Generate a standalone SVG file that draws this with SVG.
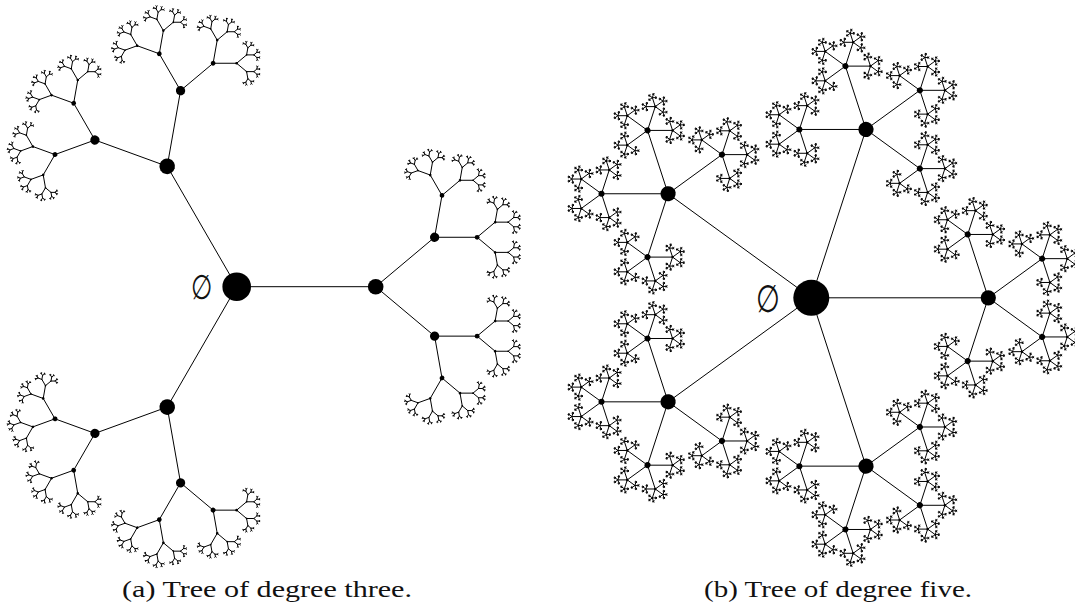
<svg xmlns="http://www.w3.org/2000/svg" width="1075" height="612" viewBox="0 0 1075 612">
<style>
.e{stroke:#000;stroke-width:1;fill:none;vector-effect:non-scaling-stroke}
.n{fill:#000}
.lbl{font-family:"DejaVu Serif","Liberation Serif",serif;fill:#111;text-anchor:middle}
.cap{font-family:"Liberation Serif",serif;font-size:24px;fill:#111}
</style>
<defs>
<g id="a9"><circle class="n" r="36"/></g>
<g id="a8"><path class="e" d="M0,0L58.9,-49.43M0,0L58.9,49.43"/><circle class="n" r="24"/><use href="#a9" transform="rotate(-40) translate(76.9,0) scale(0.553)"/><use href="#a9" transform="rotate(40) translate(76.9,0) scale(0.553)"/></g>
<g id="a7"><path class="e" d="M0,0L58.9,-49.43M0,0L58.9,49.43"/><circle class="n" r="16"/><use href="#a8" transform="rotate(-40) translate(76.9,0) scale(0.553)"/><use href="#a8" transform="rotate(40) translate(76.9,0) scale(0.553)"/></g>
<g id="a6"><path class="e" d="M0,0L58.9,-49.43M0,0L58.9,49.43"/><circle class="n" r="11"/><use href="#a7" transform="rotate(-40) translate(76.9,0) scale(0.553)"/><use href="#a7" transform="rotate(40) translate(76.9,0) scale(0.553)"/></g>
<g id="a5"><path class="e" d="M0,0L58.9,-49.43M0,0L58.9,49.43"/><circle class="n" r="9"/><use href="#a6" transform="rotate(-40) translate(76.9,0) scale(0.553)"/><use href="#a6" transform="rotate(40) translate(76.9,0) scale(0.553)"/></g>
<g id="a4"><path class="e" d="M0,0L58.9,-49.43M0,0L58.9,49.43"/><circle class="n" r="7.8"/><use href="#a5" transform="rotate(-40) translate(76.9,0) scale(0.553)"/><use href="#a5" transform="rotate(40) translate(76.9,0) scale(0.553)"/></g>
<g id="a3"><path class="e" d="M0,0L58.9,-49.43M0,0L58.9,49.43"/><circle class="n" r="7.8"/><use href="#a4" transform="rotate(-40) translate(76.9,0) scale(0.553)"/><use href="#a4" transform="rotate(40) translate(76.9,0) scale(0.553)"/></g>
<g id="a2"><path class="e" d="M0,0L58.9,-49.43M0,0L58.9,49.43"/><circle class="n" r="8.4"/><use href="#a3" transform="rotate(-40) translate(76.9,0) scale(0.553)"/><use href="#a3" transform="rotate(40) translate(76.9,0) scale(0.553)"/></g>
<g id="a1"><path class="e" d="M0,0L58.9,-49.43M0,0L58.9,49.43"/><circle class="n" r="7.8"/><use href="#a2" transform="rotate(-40) translate(76.9,0) scale(0.553)"/><use href="#a2" transform="rotate(40) translate(76.9,0) scale(0.553)"/></g>

<g id="b6"><circle class="n" r="7.6"/></g>
<g id="b5"><path class="e" d="M0,0L53.88,-39.15M0,0L53.88,39.15M0,0L-20.58,-63.34M0,0L-20.58,63.34"/><circle class="n" r="7.6"/><use href="#b6" transform="rotate(-36) translate(66.6,0) scale(0.376)"/><use href="#b6" transform="rotate(36) translate(66.6,0) scale(0.376)"/><use href="#b6" transform="rotate(-108) translate(66.6,0) scale(0.376)"/><use href="#b6" transform="rotate(108) translate(66.6,0) scale(0.376)"/></g>
<g id="b4"><path class="e" d="M0,0L53.88,-39.15M0,0L53.88,39.15M0,0L-20.58,-63.34M0,0L-20.58,63.34"/><circle class="n" r="7.6"/><use href="#b5" transform="rotate(-36) translate(66.6,0) scale(0.376)"/><use href="#b5" transform="rotate(36) translate(66.6,0) scale(0.376)"/><use href="#b5" transform="rotate(-108) translate(66.6,0) scale(0.376)"/><use href="#b5" transform="rotate(108) translate(66.6,0) scale(0.376)"/></g>
<g id="b3"><path class="e" d="M0,0L53.88,-39.15M0,0L53.88,39.15M0,0L-20.58,-63.34M0,0L-20.58,63.34"/><circle class="n" r="9"/><use href="#b4" transform="rotate(-36) translate(66.6,0) scale(0.376)"/><use href="#b4" transform="rotate(36) translate(66.6,0) scale(0.376)"/><use href="#b4" transform="rotate(-108) translate(66.6,0) scale(0.376)"/><use href="#b4" transform="rotate(108) translate(66.6,0) scale(0.376)"/></g>
<g id="b2"><path class="e" d="M0,0L53.88,-39.15M0,0L53.88,39.15M0,0L-20.58,-63.34M0,0L-20.58,63.34"/><circle class="n" r="8"/><use href="#b3" transform="rotate(-36) translate(66.6,0) scale(0.376)"/><use href="#b3" transform="rotate(36) translate(66.6,0) scale(0.376)"/><use href="#b3" transform="rotate(-108) translate(66.6,0) scale(0.376)"/><use href="#b3" transform="rotate(108) translate(66.6,0) scale(0.376)"/></g>
<g id="b1"><path class="e" d="M0,0L53.88,-39.15M0,0L53.88,39.15M0,0L-20.58,-63.34M0,0L-20.58,63.34"/><circle class="n" r="7.6"/><use href="#b2" transform="rotate(-36) translate(66.6,0) scale(0.376)"/><use href="#b2" transform="rotate(36) translate(66.6,0) scale(0.376)"/><use href="#b2" transform="rotate(-108) translate(66.6,0) scale(0.376)"/><use href="#b2" transform="rotate(108) translate(66.6,0) scale(0.376)"/></g>
</defs>

<g id="tree-a" transform="translate(236.7,286.7)">
  <g id="a-connectors"><path class="e" d="M0,0L139,0M0,0L-69.5,-120.38M0,0L-69.5,120.38"/></g>
  <g id="a-branch-right"><use href="#a1" transform="translate(139,0)"/></g>
  <g id="a-branch-up"><use href="#a1" transform="rotate(-120) translate(139,0)"/></g>
  <g id="a-branch-down"><use href="#a1" transform="rotate(120) translate(139,0)"/></g>
  <g id="a-root"><circle class="n" r="14.3"/></g>
</g>
<text class="lbl" transform="translate(201.5,299) scale(0.72,1)" font-size="34">∅</text>

<g id="tree-b" transform="translate(811.3,297.8)">
  <g id="b-connectors"><path class="e" d="M0,0L177,0M0,0L54.7,-168.34M0,0L54.7,168.34M0,0L-143.2,-104.04M0,0L-143.2,104.04"/></g>
  <g id="b-branch-0"><use href="#b1" transform="translate(177,0)"/></g>
  <g id="b-branch-72"><use href="#b1" transform="rotate(-72) translate(177,0)"/></g>
  <g id="b-branch-144"><use href="#b1" transform="rotate(-144) translate(177,0)"/></g>
  <g id="b-branch-216"><use href="#b1" transform="rotate(144) translate(177,0)"/></g>
  <g id="b-branch-288"><use href="#b1" transform="rotate(72) translate(177,0)"/></g>
  <g id="b-root"><circle class="n" r="18"/></g>
</g>
<text class="lbl" transform="translate(768,312) scale(0.72,1)" font-size="38">∅</text>

<text class="cap" x="122" y="597" textLength="290" lengthAdjust="spacingAndGlyphs">(a) Tree of degree three.</text>
<text class="cap" x="704" y="597" textLength="268" lengthAdjust="spacingAndGlyphs">(b) Tree of degree five.</text>
</svg>
